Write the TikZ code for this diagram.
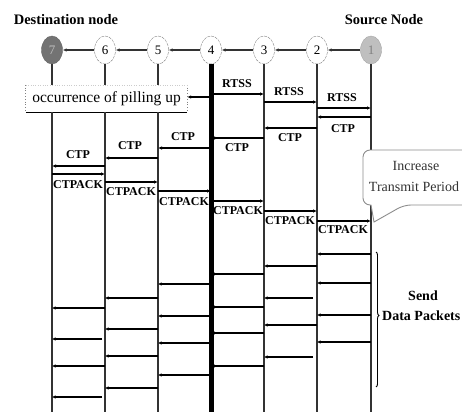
\documentclass[tikz,border=0pt]{standalone}
\usepackage{fontspec}
\setmainfont{Liberation Serif}
\usetikzlibrary{arrows.meta,decorations.pathreplacing,shapes.geometric,calc}
\begin{document}
\begin{tikzpicture}[x=1pt,y=-1pt,
  proc/.style={ellipse,minimum width=21pt,minimum height=28pt,inner sep=0pt,draw=black!50,dash pattern=on 3pt off 1pt,font=\fontsize{13}{13}\selectfont,fill=white},
  life/.style={line width=1.2pt,draw=black!80},
  link/.style={line width=1.3pt,draw=black!80,-{Latex[length=4pt,width=3.5pt]}},
  msg/.style={line width=1.2pt,-{Latex[length=4pt,width=3.5pt]}},
  pkt/.style={line width=1.3pt,-{Latex[length=3.5pt,width=3.5pt]}},
  thk/.style={line width=2.6pt},
  lab/.style={font=\bfseries\fontsize{12}{12}\selectfont,inner sep=0pt},
  title/.style={font=\bfseries\fontsize{14.5}{14.5}\selectfont,inner sep=0pt},
]
\useasboundingbox (0,0) rectangle (462,412);
% titles
\node[title] (tdest) at (66,20) {Destination node};
\node[title] (tsrc) at (384,20) {Source Node};
% processes
\node[proc,fill=black!55,text=black!25,draw=black!60,solid] (n7) at (52,50) {7};
\node[proc] (n6) at (105,50) {6};
\node[proc] (n5) at (158,50) {5};
\node[proc] (n4) at (211,50) {4};
\node[proc] (n3) at (264,50) {3};
\node[proc] (n2) at (317,50) {2};
\node[proc,fill=black!25,text=black!50,draw=black!35,solid] (n1) at (371,50) {1};
% links
\draw[link] (n1) -- (n2);
\draw[link] (n2) -- (n3);
\draw[link] (n3) -- (n4);
\draw[link] (n4) -- (n5);
\draw[link] (n5) -- (n6);
\draw[link] (n6) -- (n7);
% pile-up box
\node[minimum width=161pt,minimum height=27pt,inner sep=0pt,font=\fontsize{15.5}{15.5}\selectfont] (pile) at (106.5,98.5) {occurrence of pilling up};
\draw[black!50,dotted,line width=0.8pt] (pile.north west) -- (pile.south west);
\draw[black!50,dotted,line width=0.8pt] (pile.north east) -- (pile.south east);
\draw[black!20,dotted] (pile.north west) -- (pile.north east);
\draw[line width=1.2pt] (pile.south west) -- (pile.south east);
% lifelines
\foreach \n in {n7,n6,n5}{
  \draw[life] (\n.south) -- (\n |- pile.north);
  \draw[life] (\n |- pile.south) -- (\n |- 0,412);
}
\draw[line width=5pt] (n4.south) -- (n4 |- 0,412);
\foreach \n in {n3,n2,n1}{
  \draw[life] (\n.south) -- (\n |- 0,412);
}
\draw[msg] (n4 |- 0,97) -- (pile.east |- 0,97);
% RTSS
\draw[msg] (n4 |- 0,94) -- (n3 |- 0,94);
\node[lab] (r1) at (237,84) {RTSS};
\draw[msg] (n3 |- 0,102) -- (n2 |- 0,102);
\node[lab] (r2) at (289,92) {RTSS};
\draw[msg] (n2 |- 0,108) -- (n1 |- 0,108);
\node[lab] (r3) at (342,98) {RTSS};
% CTP
\draw[msg] (n1 |- 0,117) -- (n2 |- 0,117);
\node[lab] (c1) at (343,129) {CTP};
\draw[msg] (n2 |- 0,128) -- (n3 |- 0,128);
\node[lab] (c2) at (290,138) {CTP};
\draw[msg] (n3 |- 0,138) -- (n4 |- 0,138);
\node[lab] (c3) at (237,148) {CTP};
\draw[msg] (n4 |- 0,148) -- (n5 |- 0,148);
\node[lab] (c4) at (183,137) {CTP};
\draw[msg] (n5 |- 0,158) -- (n6 |- 0,158);
\node[lab] (c5) at (130,146) {CTP};
\draw[msg] (n6 |- 0,166) -- (n7 |- 0,166);
\node[lab] (c6) at (78,155) {CTP};
% CTPACK
\draw[msg] (n7 |- 0,174) -- (n6 |- 0,174);
\node[lab] (a1) at (78,185) {CTPACK};
\draw[msg] (n6 |- 0,182) -- (n5 |- 0,182);
\node[lab] (a2) at (131,192) {CTPACK};
\draw[msg] (n5 |- 0,191) -- (n4 |- 0,191);
\node[lab] (a3) at (184,202) {CTPACK};
\draw[msg] (n4 |- 0,201) -- (n3 |- 0,201);
\node[lab] (a4) at (238,211) {CTPACK};
\draw[msg] (n3 |- 0,211) -- (n2 |- 0,211);
\node[lab] (a5) at (290,221) {CTPACK};
\draw[msg] (n2 |- 0,221) -- (n1 |- 0,221);
\node[lab] (a6) at (343,230) {CTPACK};
% data packets 1 -> 2
\foreach \y in {254,283,315,342}
  \draw[pkt] (n1 |- 0,\y) -- (n2 |- 0,\y);
% 2 -> 3
\foreach \y in {266,325}
  \draw[pkt,thk] (n2 |- 0,\y) -- (n3 |- 0,\y);
\foreach \y in {298,357}
  \draw[pkt] ($(n2 |- 0,\y)+(-4,0)$) -- (n3 |- 0,\y);
% 3 -> 4
\draw[pkt,thk] (n3 |- 0,274) -- (n4 |- 0,274);
\foreach \y in {307,333,366}
  \draw[pkt] (n3 |- 0,\y) -- (n4 |- 0,\y);
% 4 -> 5
\foreach \y in {284,343}
  \draw[pkt,thk] (n4 |- 0,\y) -- (n5 |- 0,\y);
\foreach \y in {316,375}
  \draw[pkt] (n4 |- 0,\y) -- (n5 |- 0,\y);
% 5 -> 6
\draw[pkt,thk] (n5 |- 0,356) -- (n6 |- 0,356);
\foreach \y in {298,329,388}
  \draw[pkt] (n5 |- 0,\y) -- (n6 |- 0,\y);
% 6 -> 7
\foreach \y in {308,366}
  \draw[pkt] (n6 |- 0,\y) -- (n7 |- 0,\y);
\foreach \y in {339,397}
  \draw[pkt] ($(n6 |- 0,\y)+(-3,0)$) -- (n7 |- 0,\y);
% callout
\draw[black!45,fill=white,line width=0.9pt] (371,205) [rounded corners=7pt] -- (363,205) -- (363,150) -- (475,150) -- (475,205) -- (404,205) [sharp corners] -- (374,222) -- cycle;
\node[font=\fontsize{14}{14}\selectfont,text=black!80,inner sep=0pt] (inc1) at (416,166) {Increase};
\node[font=\fontsize{14}{14}\selectfont,text=black!80,inner sep=0pt] (inc2) at (414,187) {Transmit Period};
% brace
\coordinate (bt) at (376,252);
\coordinate (bb) at (376,387);
\draw[line width=0.9pt,decorate,decoration={brace,amplitude=3pt,aspect=0.47}] (bt) -- (bb);
\node[title,font=\bfseries\fontsize{14}{14}\selectfont] (send1) at (423,296) {Send};
\node[title,font=\bfseries\fontsize{14}{14}\selectfont,anchor=west] (send2) at (382,316) {Data Packets};
\end{tikzpicture}
\end{document}
